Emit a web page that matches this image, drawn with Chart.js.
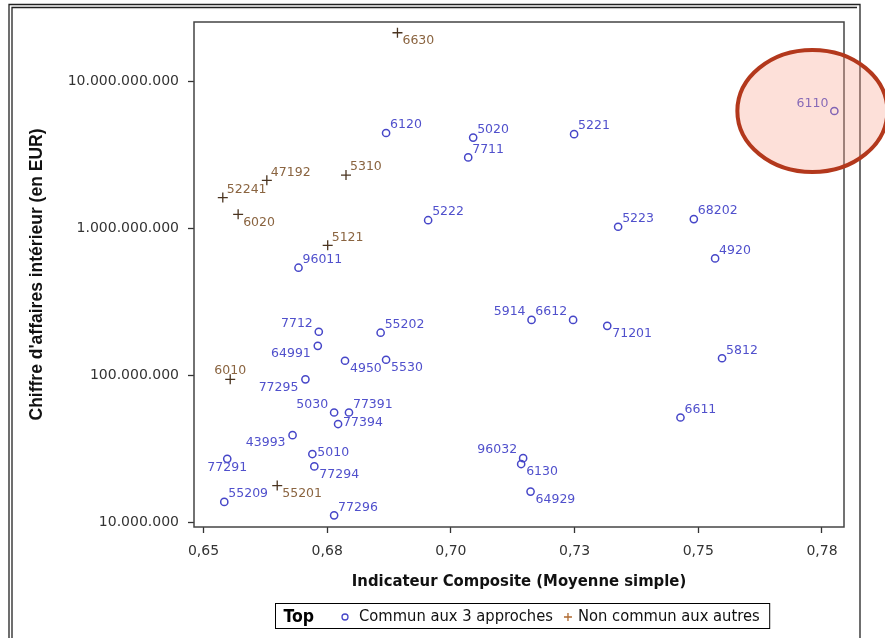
<!DOCTYPE html>
<html><head><meta charset="utf-8">
<script src="https://cdn.jsdelivr.net/npm/chart.js@4"></script>
<style>html,body{margin:0;padding:0;background:#fff;} #wrap{width:885px;height:638px;position:relative;} canvas{display:block;}</style>
</head><body>
<div id="wrap"><canvas id="c" width="885" height="638" style="width:885px;height:638px"></canvas></div>
<script>
// ---- data ----
const commonLabels = ['6120','5020','7711','5222','96011','5221','6110','5223','68202','4920',
  '7712','55202','64991','4950','5530','77295','5030','77391','77394','43993','77291','5010',
  '77294','55209','77296','5914','6612','71201','5812','6611','96032','6130','64929'];
const commonX = [0.6869,0.7045,0.7035,0.6954,0.6692,0.7249,0.7775,0.7338,0.7491,0.7534,
  0.6733,0.6858,0.6731,0.6786,0.6869,0.6706,0.6764,0.6794,0.6772,0.6680,0.6548,0.6720,
  0.6724,0.6542,0.6764,0.7163,0.7247,0.7316,0.7548,0.7464,0.7146,0.7142,0.7161];
const commonY = [4.43e9,4.12e9,3.02e9,1.13e9,5.37e8,4.35e9,6.25e9,1.02e9,1.15e9,6.21e8,
  1.97e8,1.94e8,1.58e8,1.25e8,1.27e8,9.35e7,5.56e7,5.56e7,4.64e7,3.90e7,2.69e7,2.90e7,
  2.39e7,1.37e7,1.11e7,2.37e8,2.37e8,2.16e8,1.30e8,5.14e7,2.72e7,2.48e7,1.61e7];
const otherLabels = ['6630','47192','5310','52241','6020','5121','6010','55201'];
const otherX = [0.6892,0.6628,0.6788,0.6539,0.6570,0.6751,0.6554,0.6649];
const otherY = [2.13e10,2.11e9,2.29e9,1.61e9,1.24e9,7.62e8,9.35e7,1.77e7];
const seriesNames = ['Commun aux 3 approches','Non commun aux autres'];
const legendTitle = 'Top';
const xTickValues = [0.65,0.675,0.70,0.725,0.75,0.775];
const xTickLabels = ['0,65','0,68','0,70','0,73','0,75','0,78'];
const yTickValues = [1e7,1e8,1e9,1e10];
const yTickLabels = ['10.000.000','100.000.000','1.000.000.000','10.000.000.000'];
const xTitle = 'Indicateur Composite (Moyenne simple)';
const yTitle = "Chiffre d'affaires intérieur (en EUR)";
const highlighted = '6110';

// ---- styles ----
const BLUE = '#4646c8', BLUE_TXT = '#5050cc';
const BROWN = '#4a3420', BROWN_TXT = '#8a6440';
const NARROW = '"Liberation Sans Narrow", "DejaVu Sans Condensed", "Arial Narrow", "Liberation Sans", sans-serif';
const placement = {
  '6110':'NW2','7712':'NW','64991':'SW','4950':'SE','5530':'SE','77295':'SW','5030':'NW',
  '77394':'E','43993':'SW','77291':'S','5010':'E','77294':'SE','5914':'NW','6612':'NW',
  '71201':'SE','96032':'NW','6130':'SE','64929':'SE',
  '6630':'SE','6020':'SE','6010':'N','55201':'SE'
};

const pts = (xs, ys) => xs.map((x, i) => ({x, y: ys[i]}));

const bgFrame = {
  id: 'bgFrame',
  beforeDraw(chart) {
    const ctx = chart.ctx;
    ctx.save();
    ctx.fillStyle = '#fff';
    ctx.fillRect(0, 0, chart.width, chart.height);
    ctx.strokeStyle = '#222';
    ctx.lineWidth = 1.3;
    ctx.beginPath();
    ctx.moveTo(9, chart.height); ctx.lineTo(9, 4.5); ctx.lineTo(860, 4.5); ctx.lineTo(860, chart.height);
    ctx.moveTo(12, chart.height); ctx.lineTo(12, 7.5); ctx.lineTo(857, 7.5);
    ctx.stroke();
    ctx.restore();
  },
  beforeDatasetsDraw(chart) {
    const {ctx, chartArea: a} = chart;
    ctx.save();
    ctx.strokeStyle = '#444';
    ctx.lineWidth = 1.5;
    ctx.strokeRect(a.left, a.top, a.right - a.left, a.bottom - a.top);
    ctx.restore();
  }
};

const pointLabels = {
  id: 'pointLabels',
  afterDatasetsDraw(chart) {
    const ctx = chart.ctx;
    chart.data.datasets.forEach((ds, di) => {
      const meta = chart.getDatasetMeta(di);
      ctx.save();
      ctx.font = '12.5px "DejaVu Sans", sans-serif';
      ctx.fillStyle = ds.labelColor;
      ctx.textBaseline = 'middle';
      meta.data.forEach((el, i) => {
        const txt = ds.names[i];
        const pos = placement[txt] || 'NE';
        let dx = 4, dy = -8, align = 'left';
        switch (pos) {
          case 'SE': dx = 5; dy = 8; break;
          case 'NW': dx = -6; dy = -8; align = 'right'; break;
          case 'NW2': dx = -6; dy = -7; align = 'right'; break;
          case 'SW': dx = -7; dy = 8; align = 'right'; break;
          case 'E': dx = 5; dy = -1; break;
          case 'S': dx = 0; dy = 9; align = 'center'; break;
          case 'N': dx = 0; dy = -9; align = 'center'; break;
        }
        ctx.textAlign = align;
        ctx.fillText(txt, el.x + dx, el.y + dy);
      });
      ctx.restore();
    });
  }
};

const legendBox = {
  id: 'legendBox',
  afterDraw(chart) {
    const ctx = chart.ctx, a = chart.chartArea;
    const ds = chart.data.datasets;
    ctx.save();
    const fTitle = 'bold 17.5px ' + NARROW, fItem = '16.4px ' + NARROW;
    ctx.font = fTitle; const wT = ctx.measureText(legendTitle).width;
    ctx.font = fItem; const w1 = ctx.measureText(ds[0].label).width, w2 = ctx.measureText(ds[1].label).width;
    const total = 8 + wT + 31 + 14 + w1 + 15 + 10 + w2 + 10;
    const cx = (a.left + a.right) / 2 + 3;
    const x0 = Math.round(cx - total / 2) + 0.5, y0 = 603.5, h = 25, cy = y0 + h / 2;
    ctx.strokeStyle = '#000'; ctx.lineWidth = 1;
    ctx.strokeRect(x0, y0, total, h);
    ctx.textBaseline = 'middle'; ctx.textAlign = 'left'; ctx.fillStyle = '#000';
    let x = x0 + 8;
    ctx.font = fTitle; ctx.fillText(legendTitle, x, cy + 1); x += wT + 31;
    ctx.strokeStyle = BLUE; ctx.lineWidth = 1.3;
    ctx.beginPath(); ctx.arc(x, cy + 1, 3, 0, Math.PI * 2); ctx.stroke();
    x += 14; ctx.font = fItem; ctx.fillStyle = '#111'; ctx.fillText(ds[0].label, x, cy + 1); x += w1 + 15;
    ctx.strokeStyle = '#b06a30'; ctx.lineWidth = 1.3;
    ctx.beginPath(); ctx.moveTo(x - 4, cy + 1); ctx.lineTo(x + 4, cy + 1); ctx.moveTo(x, cy - 3); ctx.lineTo(x, cy + 5); ctx.stroke();
    x += 10; ctx.fillText(ds[1].label, x, cy + 1);
    ctx.restore();
  }
};

const highlight = {
  id: 'highlight',
  afterDraw(chart) {
    const i = commonLabels.indexOf(highlighted);
    const el = chart.getDatasetMeta(0).data[i];
    const ctx = chart.ctx;
    ctx.save();
    ctx.beginPath();
    ctx.ellipse(el.x - 22, el.y, 75, 61, 0, 0, Math.PI * 2);
    ctx.fillStyle = 'rgba(250,160,140,0.33)';
    ctx.fill();
    ctx.strokeStyle = '#b3381c';
    ctx.lineWidth = 4;
    ctx.stroke();
    ctx.restore();
  }
};

new Chart(document.getElementById('c'), {
  type: 'scatter',
  data: {
    datasets: [
      { label: seriesNames[0], names: commonLabels, labelColor: BLUE_TXT, data: pts(commonX, commonY),
        pointStyle: 'circle', pointRadius: 3.6, borderColor: BLUE, backgroundColor: 'rgba(0,0,0,0)', borderWidth: 1.5 },
      { label: seriesNames[1], names: otherLabels, labelColor: BROWN_TXT, data: pts(otherX, otherY),
        pointStyle: 'cross', pointRadius: 5, borderColor: BROWN, backgroundColor: BROWN, borderWidth: 1.3 }
    ]
  },
  options: {
    responsive: false,
    animation: false,
    devicePixelRatio: 1,
    layout: { padding: { left: 0, top: 22, right: 41, bottom: 0 } },
    plugins: { legend: { display: false }, tooltip: { enabled: false } },
    scales: {
      x: {
        type: 'linear', min: 0.64808, max: 0.77945,
        afterBuildTicks: s => { s.ticks = xTickValues.map(v => ({value: v})); },
        afterFit: s => { s.height = 111; },
        ticks: { callback: (v, i) => xTickLabels[xTickValues.indexOf(v)], color: '#333',
          font: { family: '"DejaVu Sans", sans-serif', size: 14 }, padding: 10, maxRotation: 0, autoSkip: false },
        grid: { drawOnChartArea: false, drawTicks: true, tickLength: 6, tickColor: '#333', tickWidth: 1.3 },
        border: { display: false },
        title: { display: true, text: xTitle, color: '#111', font: { family: NARROW, size: 16.5, weight: 'bold' },
          padding: { top: 0, bottom: 46 } }
      },
      y: {
        type: 'logarithmic', min: 9.25e6, max: 2.52e10,
        afterBuildTicks: s => { s.ticks = yTickValues.map(v => ({value: v})); },
        afterFit: s => { s.width = 194; },
        ticks: { callback: (v) => yTickLabels[yTickValues.indexOf(v)], color: '#333',
          font: { family: '"DejaVu Sans", sans-serif', size: 14 }, padding: 9, autoSkip: false },
        grid: { drawOnChartArea: false, drawTicks: true, tickLength: 6, tickColor: '#333', tickWidth: 1.3 },
        border: { display: false },
        title: { display: true, text: yTitle, color: '#111', font: { family: '"Liberation Sans", Arial, sans-serif', size: 17.5, weight: 'bold' },
          padding: { top: 26.5, bottom: 0 } }
      }
    }
  },
  plugins: [bgFrame, pointLabels, legendBox, highlight]
});
</script>
</body></html>
